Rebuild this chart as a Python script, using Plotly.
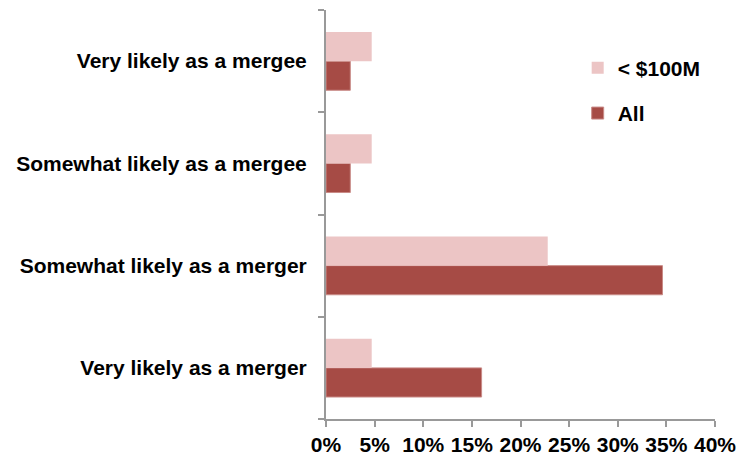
import plotly.graph_objects as go

categories = ['Very likely as a merger', 'Somewhat likely as a merger',
              'Somewhat likely as a mergee', 'Very likely as a mergee']
all_vals = [16.0, 34.6, 2.5, 2.5]
small_vals = [4.7, 22.8, 4.7, 4.7]
x_ticks = [0, 5, 10, 15, 20, 25, 30, 35, 40]

FONT = 'Liberation Sans, Arial, sans-serif'
FS = 21

fig = go.Figure()
fig.add_trace(go.Bar(y=categories, x=all_vals, name='All', orientation='h',
                     marker=dict(color='#A64B45', line=dict(color='#C98B87', width=1)),
                     legendgroup='b', legendrank=2))
fig.add_trace(go.Bar(y=categories, x=small_vals, name='< $100M', orientation='h',
                     marker=dict(color='#ECC5C5', line=dict(width=0)),
                     legendgroup='a', legendrank=1))

# page body has an 8px margin, so the figure is sized to fit inside it
fig.update_layout(
    width=745, height=449,
    margin=dict(l=318, r=38, t=2, b=38, autoexpand=False),
    plot_bgcolor='white', paper_bgcolor='white',
    barmode='group', bargap=0.43, bargroupgap=0,
    font=dict(family=FONT, size=FS, color='black'),
    legend=dict(x=0.647, y=0.908, xanchor='left', yanchor='top',
                traceorder='grouped', tracegroupgap=15, itemwidth=30,
                font=dict(size=FS, family=FONT, weight='bold'),
                bgcolor='rgba(0,0,0,0)'),
    showlegend=True,
)
fig.update_xaxes(range=[0, 40], tickvals=x_ticks, ticktext=[f'{v}%' for v in x_ticks],
                 showgrid=False, zeroline=False, showline=True, linecolor='#999999',
                 linewidth=2, ticks='outside', ticklen=6, tickcolor='#999999', tickwidth=2,
                 automargin=False, tickfont=dict(weight='bold', size=FS))
fig.update_yaxes(showgrid=False, zeroline=False, showline=True, linecolor='#999999',
                 linewidth=2, ticks='outside', ticklen=6, tickcolor='#999999', tickwidth=2,
                 tickson='boundaries', ticklabelstandoff=13, automargin=False,
                 tickfont=dict(weight='bold', size=FS))

fig.write_html('out.html')
